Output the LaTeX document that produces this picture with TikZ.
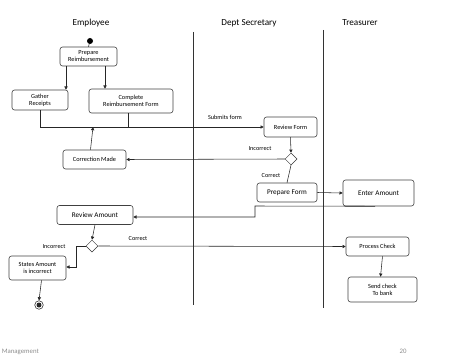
\documentclass[tikz,border=0pt]{standalone}
\usepackage{fontspec}
\setmainfont{Carlito}
\usetikzlibrary{arrows.meta,shapes.geometric,calc}
\begin{document}
\begin{tikzpicture}[x=1pt,y=-1pt,
  act/.style={draw=black!75, line width=0.6pt, rounded corners=2.5pt, align=center, inner sep=1pt, font=\fontsize{6.3}{7}\selectfont},
  actb/.style={act, font=\fontsize{7.2}{8}\selectfont},
  dec/.style={draw=black!80, line width=0.5pt, diamond, minimum width=12pt, minimum height=12pt, inner sep=0pt, fill=white},
  arr/.style={draw=black!85, line width=0.55pt, -{Triangle[length=3.2pt,width=3.2pt]}},
  ln/.style={draw=black!85, line width=0.55pt},
  lane/.style={draw=black!80, line width=0.6pt},
  lbl/.style={font=\fontsize{6.2}{7}\selectfont, inner sep=0pt},
  title/.style={font=\fontsize{9.2}{10}\selectfont, inner sep=0pt},
  foot/.style={font=\fontsize{6.8}{7}\selectfont, text=black!45, inner sep=0pt}]
\useasboundingbox (0,0) rectangle (450,361);
\clip (0,0) rectangle (450,361);
% titles
\node[title] (tEmp) at (91,23) {Employee};
\node[title] (tDept) at (249,23) {Dept Secretary};
\node[title] (tTre) at (360,23) {Treasurer};
% lanes
\coordinate (l1t) at (193,32); \coordinate (l1b) at (193,305);
\coordinate (l2t) at (323,30); \coordinate (l2b) at (323,308);
\draw[lane] (l1t) -- (l1b);
\draw[lane] (l2t) -- (l2b);
% nodes
\node[circle, fill=black, inner sep=0pt, minimum size=6pt] (start) at (90,41) {};
\node[act, minimum width=57pt, minimum height=19pt] (prep) at (88.5,56.5) {Prepare\\Reimbursement};
\node[act, minimum width=56pt, minimum height=20pt] (gather) at (40,100) {Gather\\Receipts};
\node[act, minimum width=84pt, minimum height=24pt] (complete) at (131,101) {Complete\\Reimbursement Form};
\node[act, minimum width=53pt, minimum height=20pt] (review) at (290.5,127) {Review Form};
\node[act, minimum width=63pt, minimum height=19pt] (corr) at (94.5,159.5) {Correction Made};
\node[dec] (d1) at (291,159) {};
\node[actb, minimum width=60pt, minimum height=19pt] (pform) at (287,192.5) {Prepare Form};
\node[actb, minimum width=71pt, minimum height=26pt] (enter) at (378.5,193) {Enter Amount};
\node[actb, minimum width=76pt, minimum height=19pt] (ramount) at (95,215) {Review Amount};
\node[dec] (d2) at (92,246) {};
\node[act, minimum width=57pt, minimum height=24pt] (states) at (37.5,268) {States Amount\\is incorrect};
\node[act, minimum width=63pt, minimum height=19pt] (pcheck) at (377.5,246.5) {Process Check};
\node[act, minimum width=69pt, minimum height=25pt] (send) at (382.5,289.5) {Send check\\To bank};
\node[circle, draw=black!80, line width=0.6pt, inner sep=0pt, minimum size=8.5pt] (endc) at (39,305) {};
\node[circle, fill=black!85, inner sep=0pt, minimum size=5pt] (endd) at (39,305) {};
% labels
\node[lbl] (lsub) at (225,117) {Submits form};
\node[lbl] (linc1) at (260,149) {Incorrect};
\node[lbl] (lcor1) at (271,176) {Correct};
\node[lbl] (lcor2) at (138,239) {Correct};
\node[lbl] (linc2) at (54,247) {Incorrect};
% footer
\node[foot, anchor=east] (fman) at (39,352) {Management};
\node[foot] (fnum) at (403,351) {20};
% connectors
\draw[ln] (start) -- (prep.north);
\draw[arr] ([xshift=-22.5pt]prep.south) -- ([xshift=-22.5pt]prep.south |- gather.north);
\draw[arr] ([xshift=16.5pt]prep.south) -- ([xshift=16.5pt]prep.south |- complete.north);
\coordinate (busL) at (40,127);
\coordinate (busC) at (128,127);
\draw[ln] (gather.south) -- (busL);
\draw[ln] ([xshift=-3pt]complete.south) -- (busC);
\draw[arr] (busL) -- (review.west);
\coordinate (busM) at (93,127);
\draw[arr] ([xshift=-4pt]corr.north) -- (busM);
\draw[arr] (review.south) -- (d1.north);
\draw[arr] (d1.west) -- (corr.east);
\draw[ln] (d1.south) -- (pform.north);
\draw[arr] (pform.east) -- (enter.west);
\coordinate (k1) at (255,206);
\coordinate (k2) at (255,217);
\draw[arr] ([xshift=-3.5pt]enter.south) -- (k1) -- (k2) -- (ramount.east |- k2);
\draw[arr] (ramount.south) -- (d2.north);
\draw[arr] (d2.east) -- (pcheck.west);
\coordinate (k3) at (76,246);
\coordinate (k4) at (76,267);
\draw[arr] (d2.west) -- (k3) -- (k4) -- (states.east |- k4);
\draw[arr] ([xshift=4pt]states.south) -- (endc.north);
\draw[arr] ([xshift=5pt]pcheck.south) -- ([xshift=-2pt]send.north);
\end{tikzpicture}
\end{document}
